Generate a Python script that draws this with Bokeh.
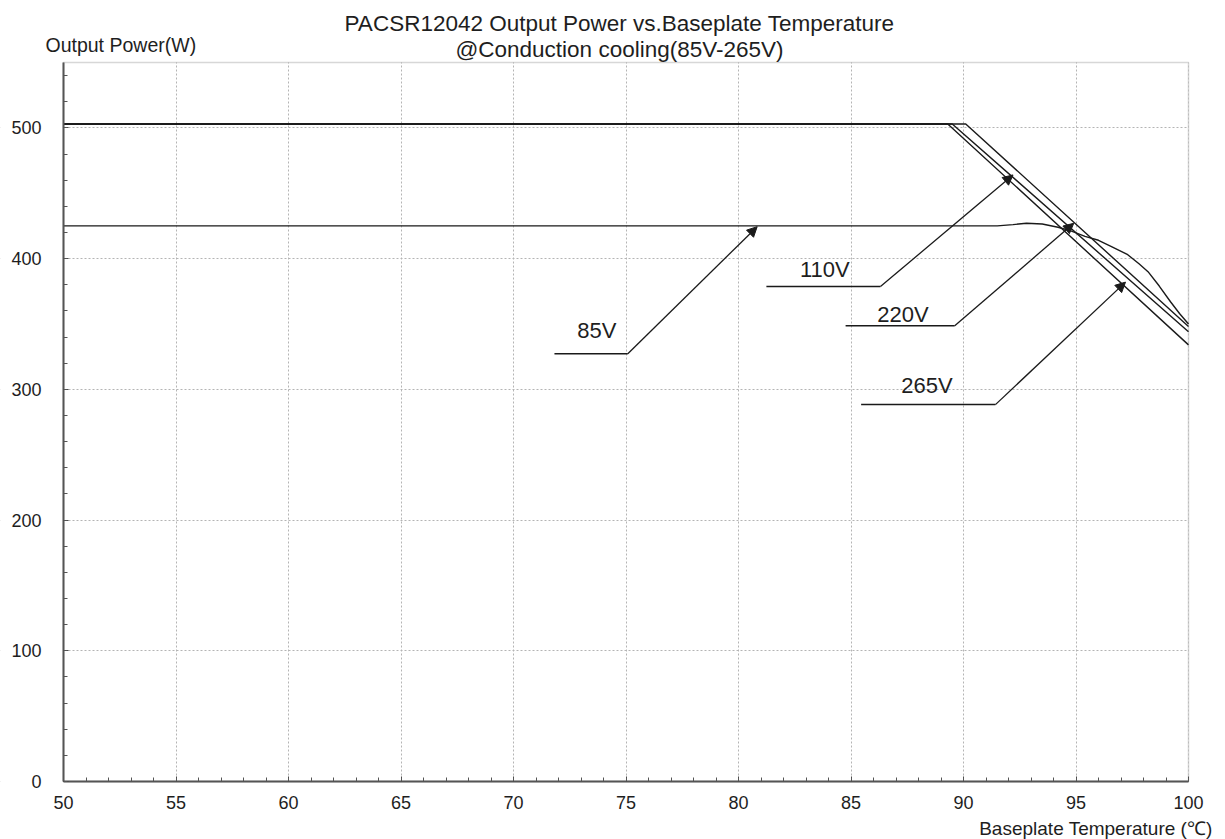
from bokeh.plotting import figure
from bokeh.models import (Range1d, SingleIntervalTicker, Label, Arrow, NormalHead,
                          ColumnDataSource, LabelSet, BoxAnnotation)
from bokeh.core.properties import value
from bokeh.embed import file_html
from bokeh.resources import INLINE

# ---- data ----
temp_85 = [50, 90, 91.5, 92.2, 92.8, 93.5, 94.2, 94.8, 95.4, 96.0, 96.6, 97.3, 97.8, 98.2, 98.7, 99.2, 99.6, 100]
pow_85 = [425, 425, 425, 426, 427, 426.5, 424, 421, 417, 414, 409, 403, 396, 390, 379, 367, 358, 350]

temp_110 = [50, 89.5, 100]
pow_110 = [503, 503, 344]

temp_220 = [50, 90.1, 100]
pow_220 = [503, 503, 348]

temp_265 = [50, 89.3, 100]
pow_265 = [503, 503, 334]

label_text = ["85V", "110V", "220V", "265V"]
label_x = [73.7, 83.84, 87.31, 88.38]
label_y = [344.7, 392, 357.6, 303]
leader_x0 = [71.82, 81.24, 84.76, 85.45]
leader_x1 = [75.08, 86.31, 89.61, 91.42]
leader_y = [327.2, 378.6, 348.6, 288.3]
tip_x = [80.83, 92.2, 94.9, 97.2]
tip_y = [424.4, 464, 427, 382]

title_1 = "PACSR12042 Output Power vs.Baseplate Temperature"
title_2 = "@Conduction cooling(85V-265V)"
y_title = "Output Power(W)"
x_title = "Baseplate Temperature (\u2103)"

FONT = "Liberation Sans"
TXT = "#1e1e1e"
LINE = "#1a1a1a"

X_MIN, X_MAX = 50, 100
Y_MIN, Y_MAX = 0, 550
# the frame covers the whole canvas so that every text sits inside it;
# the axes are pinned at the chart's own origin
X_FRAME = (47.2, 101.6444)
Y_FRAME = (-44.37, 597.43)

p = figure(width=1225, height=839, title=None, output_backend="svg", toolbar_location=None,
           x_range=Range1d(*X_FRAME), y_range=Range1d(*Y_FRAME),
           min_border_left=0, min_border_right=0, min_border_top=0, min_border_bottom=0)
p.background_fill_color = "white"
p.border_fill_color = "white"
p.outline_line_color = None

p.xaxis.ticker = SingleIntervalTicker(interval=5, num_minor_ticks=5)
p.yaxis.ticker = SingleIntervalTicker(interval=100, num_minor_ticks=5)
p.xaxis.bounds = (X_MIN, X_MAX)
p.yaxis.bounds = (Y_MIN, Y_MAX)
p.xaxis.fixed_location = Y_MIN
p.yaxis.fixed_location = X_MIN
for ax in (p.xaxis, p.yaxis):
    ax.axis_line_color = "#555555"
    ax.axis_line_width = 2
    ax.major_tick_in = 5
    ax.major_tick_out = 0
    ax.minor_tick_in = 4
    ax.minor_tick_out = 0
    ax.major_tick_line_color = "#444444"
    ax.minor_tick_line_color = "#555555"
    ax.major_label_text_font = FONT
    ax.major_label_text_font_size = "18px"
    ax.major_label_text_color = TXT
p.xaxis.major_label_standoff = 15
p.yaxis.major_label_standoff = 22

for g in (p.xgrid, p.ygrid):
    g.grid_line_color = "#b4b4b4"
    g.grid_line_dash = "2 2"
    g.grid_line_width = 1
p.xgrid.bounds = (X_MIN, X_MAX)
p.ygrid.bounds = (Y_MIN, Y_MAX)

# white masks outside the plot box (keep grid lines inside), then the box border
for kw in (dict(bottom=Y_MAX), dict(top=Y_MIN), dict(right=X_MIN), dict(left=X_MAX)):
    p.add_layout(BoxAnnotation(fill_color="white", fill_alpha=1, line_color=None,
                               level="underlay", **kw))
p.add_layout(BoxAnnotation(left=X_MIN, right=X_MAX, bottom=Y_MIN, top=Y_MAX,
                           fill_color=None, fill_alpha=0, line_color="#7a7a7a",
                           line_width=1.5, level="underlay"))

p.line(temp_265, pow_265, line_color=LINE, line_width=1.4)
p.line(temp_110, pow_110, line_color=LINE, line_width=1.4)
p.line(temp_220, pow_220, line_color=LINE, line_width=1.4)
p.line(temp_85, pow_85, line_color=LINE, line_width=1.4)

src = ColumnDataSource(dict(text=label_text, lx=label_x, ly=label_y,
                            x0=leader_x0, x1=leader_x1, y=leader_y,
                            tx=tip_x, ty=tip_y))
p.segment(x0="x0", y0="y", x1="x1", y1="y", source=src, line_color=LINE, line_width=1.5)
p.add_layout(Arrow(end=NormalHead(size=10, fill_color=LINE, line_color=LINE),
                   x_start="x1", y_start="y", x_end="tx", y_end="ty",
                   source=src, line_color=LINE, line_width=1.3))
p.add_layout(LabelSet(x="lx", y="ly", text="text", source=src,
                      text_align="center", text_baseline="middle",
                      text_font=value(FONT), text_font_size="22px", text_color=TXT))

p.add_layout(Label(x=74.71, y=580.0, text=title_1, text_align="center", text_baseline="middle",
                   text_font=FONT, text_font_size="22.5px", text_color=TXT))
p.add_layout(Label(x=74.71, y=560.0, text=title_2, text_align="center", text_baseline="middle",
                   text_font=FONT, text_font_size="22.5px", text_color=TXT))
p.add_layout(Label(x=49.2, y=563.5, text=y_title, text_align="left", text_baseline="middle",
                   text_font=FONT, text_font_size="19.5px", text_color=TXT))
p.add_layout(Label(x=101.07, y=-35.9, text=x_title, text_align="right", text_baseline="middle",
                   text_font=FONT, text_font_size="19px", text_color=TXT))

open("out.html", "w").write(file_html(p, INLINE))
